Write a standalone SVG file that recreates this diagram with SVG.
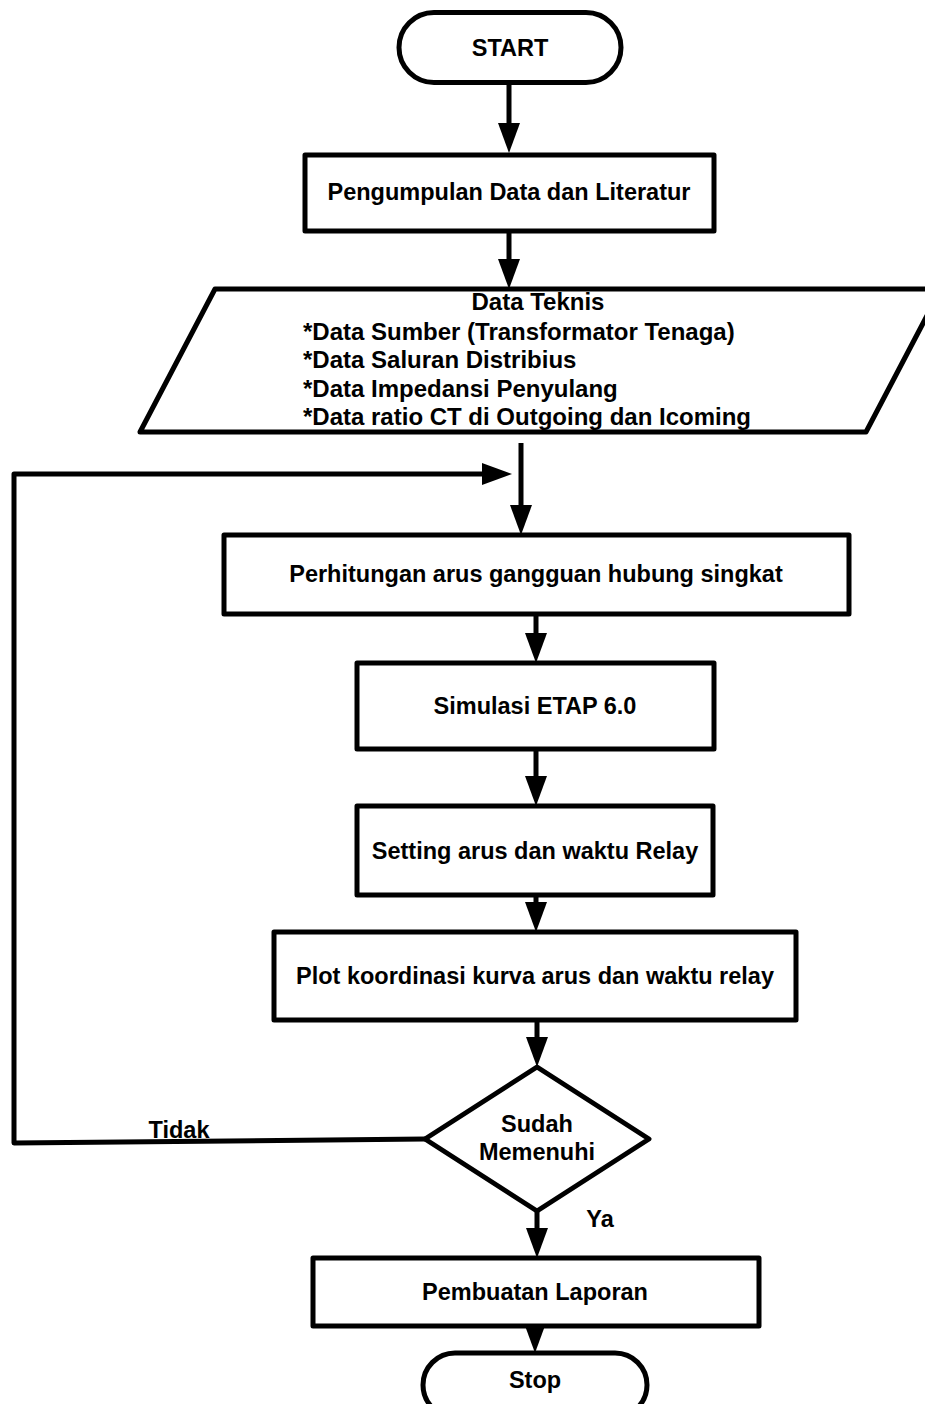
<svg xmlns="http://www.w3.org/2000/svg" width="925" height="1404" viewBox="0 0 925 1404">
<style>
.s{fill:#fff;stroke:#000;stroke-width:5;stroke-linejoin:round}
.t{font-family:"Liberation Sans",Arial,sans-serif;font-weight:bold;font-size:23.5px;fill:#000;text-anchor:middle}
.p{font-size:24px}
.l{text-anchor:start}
.c{fill:none;stroke:#000;stroke-width:5;stroke-linejoin:round}
</style>
<defs>
<marker id="ah" markerUnits="userSpaceOnUse" markerWidth="31" markerHeight="23" refX="20" refY="11" orient="auto">
<path d="M0,0 L30,11 L0,22 z" fill="#000"/>
</marker>
</defs>
<g id="connectors">
<line class="c" x1="509" y1="83" x2="509" y2="143" marker-end="url(#ah)"/>
<line class="c" x1="509" y1="231" x2="509" y2="279" marker-end="url(#ah)"/>
<line class="c" x1="521" y1="443" x2="521" y2="525" marker-end="url(#ah)"/>
<polyline class="c" points="425,1139 14,1143 14,474 502,474" marker-end="url(#ah)"/>
<line class="c" x1="536" y1="614" x2="536" y2="653" marker-end="url(#ah)"/>
<line class="c" x1="536" y1="749" x2="536" y2="796" marker-end="url(#ah)"/>
<line class="c" x1="536" y1="895" x2="536" y2="922" marker-end="url(#ah)"/>
<line class="c" x1="537" y1="1020" x2="537" y2="1057" marker-end="url(#ah)"/>
<line class="c" x1="537" y1="1211" x2="537" y2="1248" marker-end="url(#ah)"/>
<line class="c" x1="535" y1="1326" x2="535" y2="1343" marker-end="url(#ah)"/>
</g>
<g id="start">
<rect class="s" x="399" y="12.5" width="222" height="70" rx="35"/>
<text class="t" x="510" y="56">START</text>
</g>
<g id="pengumpulan">
<rect class="s" x="305" y="155" width="409" height="76"/>
<text class="t" x="509" y="200">Pengumpulan Data dan Literatur</text>
</g>
<g id="data-teknis">
<polygon class="s" points="215,289 941,289 866,432 140,432"/>
<text class="t p" x="538" y="310">Data Teknis</text>
<text class="t p l" x="303" y="340">*Data Sumber (Transformator Tenaga)</text>
<text class="t p l" x="303" y="368">*Data Saluran Distribius</text>
<text class="t p l" x="303" y="397">*Data Impedansi Penyulang</text>
<text class="t p l" x="303" y="425">*Data ratio CT di Outgoing dan Icoming</text>
</g>
<g id="perhitungan">
<rect class="s" x="224" y="535" width="625" height="79"/>
<text class="t" x="536" y="582">Perhitungan arus gangguan hubung singkat</text>
</g>
<g id="simulasi">
<rect class="s" x="357" y="663" width="357" height="86"/>
<text class="t" x="535" y="714">Simulasi ETAP 6.0</text>
</g>
<g id="setting">
<rect class="s" x="357" y="806" width="356" height="89"/>
<text class="t" x="535" y="859">Setting arus dan waktu Relay</text>
</g>
<g id="plot">
<rect class="s" x="274" y="932" width="522" height="88"/>
<text class="t" x="535" y="984">Plot koordinasi kurva arus dan waktu relay</text>
</g>
<g id="keputusan">
<polygon class="s" points="537,1067 649,1139 537,1211 425,1139"/>
<text class="t" x="537" y="1132">Sudah</text>
<text class="t" x="537" y="1160">Memenuhi</text>
</g>
<g id="labels">
<text class="t" x="179" y="1138">Tidak</text>
<text class="t" x="600" y="1227">Ya</text>
</g>
<g id="pembuatan">
<rect class="s" x="313" y="1258" width="446" height="68"/>
<text class="t" x="535" y="1300">Pembuatan Laporan</text>
</g>
<g id="stop">
<rect class="s" x="423" y="1353" width="224" height="64" rx="32"/>
<text class="t" x="535" y="1388">Stop</text>
</g>
</svg>
